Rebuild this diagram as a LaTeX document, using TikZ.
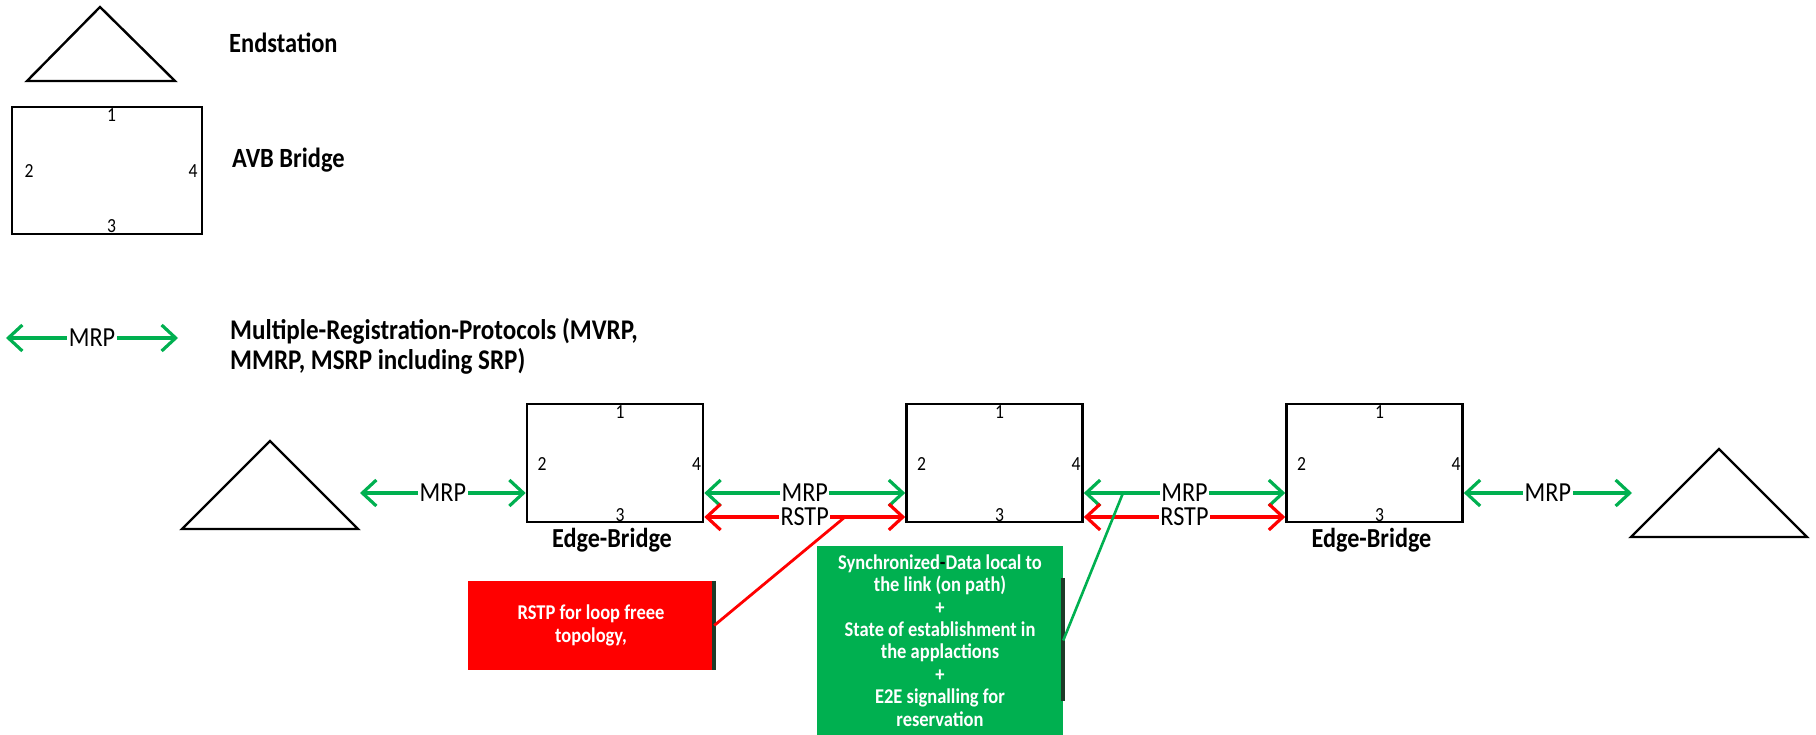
\documentclass[tikz,border=0pt]{standalone}
\usepackage{fontspec}
\setmainfont{Carlito}[FakeStretch=0.88]
\usetikzlibrary{arrows.meta}
\definecolor{mrpgreen}{HTML}{00B050}
\definecolor{rstpred}{HTML}{FF0000}
\definecolor{edgedark}{HTML}{1E3A28}

\begin{document}
\begin{tikzpicture}[x=1pt,y=-1pt,
  bridge/.style={draw, line width=2.6pt, minimum width=176pt, minimum height=118pt, inner sep=0pt},
  port/.style={font=\fontsize{20}{24}\selectfont, anchor=base, inner sep=0pt},
  station/.style={draw, line width=2.4pt, line join=miter},
  link/.style={line width=3.2pt, {Straight Barb[length=14pt,width=26pt]}-{Straight Barb[length=14pt,width=26pt]}},
  mrp/.style={link, draw=mrpgreen},
  rstp/.style={link, draw=rstpred},
  tag/.style={fill=white, inner xsep=1.5pt, inner ysep=0pt, font=\fontsize{27.5}{32}\selectfont},
  legend/.style={anchor=base west, inner sep=0pt, font=\bfseries\fontsize{27.8}{33}\selectfont},
  caption/.style={anchor=base, inner sep=0pt, font=\bfseries\fontsize{27.5}{33}\selectfont},
  note/.style={text=white, font=\bfseries\fontsize{21}{22.4}\selectfont, align=center, minimum width=246pt, inner sep=0pt},
]
\useasboundingbox (0,0) rectangle (1816,735);

% ---------- legend ----------
\coordinate (lt-top) at (100,7);
\draw[station] (lt-top) -- ++(75,74) -- ++(-148,0) -- cycle;
\node[legend] (lt-text) at (229,53) {Endstation};

\node[bridge, minimum width=190pt, minimum height=127pt] (lg) at (107,170.5) {};
\node[port] (lg-p1) at ([xshift=4.5pt,yshift=-16pt]lg.north) {1};
\node[port] (lg-p2) at ([xshift=-78pt,yshift=-7.5pt]lg.center) {2};
\node[port] (lg-p4) at ([xshift=86pt,yshift=-7.5pt]lg.center) {4};
\node[port] (lg-p3) at ([xshift=4.5pt,yshift=3pt]lg.south) {3};
\node[legend] (lg-text) at (232,168) {AVB Bridge};

\coordinate (lm-a) at (6,338);
\coordinate (lm-b) at (178,338);
\draw[mrp] (lm-a) -- node[tag] (lm-tag) {MRP} (lm-b);
\node[legend, font=\bfseries\fontsize{28.5}{33}\selectfont] (lm-text1) at (230,340) {Multiple-Registration-Protocols (MVRP,};
\node[legend, font=\bfseries\fontsize{28.5}{33}\selectfont] (lm-text2) at (230,370) {MMRP, MSRP including SRP)};

% ---------- network ----------
\coordinate (es1-top) at (270,441);
\draw[station] (es1-top) -- ++(88,88) -- ++(-176,0) -- cycle;
\coordinate (es2-top) at (1719,449);
\draw[station] (es2-top) -- ++(88,88) -- ++(-176,0) -- cycle;

\node[bridge] (r1) at (615,463) {};
\node[bridge] (r2) at (994.5,463) {};
\node[bridge] (r3) at (1374.5,463) {};

\foreach \b in {r1,r2,r3} {
  \node[port] (\b-p1) at ([xshift=5pt,yshift=-16pt]\b.north) {1};
  \node[port] (\b-p2) at ([xshift=-73pt,yshift=-7pt]\b.center) {2};
  \node[port] (\b-p4) at ([xshift=81.5pt,yshift=-7pt]\b.center) {4};
  \node[port] (\b-p3) at ([xshift=5pt,yshift=2pt]\b.south) {3};
}
\node[caption] (r1-cap) at ([xshift=-3pt,yshift=-24pt]r1.south) {Edge-Bridge};
\node[caption] (r3-cap) at ([xshift=-3pt,yshift=-24pt]r3.south) {Edge-Bridge};

% links
\coordinate (es1-link) at (360,493);
\coordinate (es2-link) at (1632,493);
\draw[mrp] (es1-link) -- node[tag] {MRP} (r1.west |- es1-link);
\draw[mrp] ([yshift=-30pt]r1.east) -- node[tag] {MRP} ([yshift=-30pt]r2.west);
\draw[rstp] ([yshift=-54pt]r1.east) -- node[tag] {RSTP} ([yshift=-54pt]r2.west);
\draw[mrp] ([yshift=-30pt]r2.east) -- node[tag] {MRP} ([yshift=-30pt]r3.west);
\draw[rstp] ([yshift=-54pt]r2.east) -- node[tag] {RSTP} ([yshift=-54pt]r3.west);
\draw[mrp] ([yshift=-30pt]r3.east) -- node[tag] {MRP} (es2-link);

% annotation boxes
\node[note, fill=rstpred, minimum height=89pt] (rbox) at (591,625.5)
  {RSTP for loop freee\\topology,};
\node[note, fill=mrpgreen, minimum height=189pt] (gbox) at (940,640.5)
  {Synchronized{\color{black}-}Data local to\\the link (on path)\\+\\State of establishment in\\the applactions\\+\\E2E signalling for\\reservation};
\draw[edgedark, line width=4pt] (rbox.north east) -- (rbox.south east);
\draw[edgedark, line width=4pt] ([yshift=-32pt]gbox.north east) -- ([yshift=34pt]gbox.south east);

\coordinate (rstp-pt) at (845,517);
\coordinate (mrp-pt) at (1123,493);
\draw[rstpred, line width=2.8pt] (rbox.east) -- (rstp-pt);
\draw[mrpgreen, line width=2.6pt] (gbox.east) -- (mrp-pt);
\end{tikzpicture}
\end{document}
